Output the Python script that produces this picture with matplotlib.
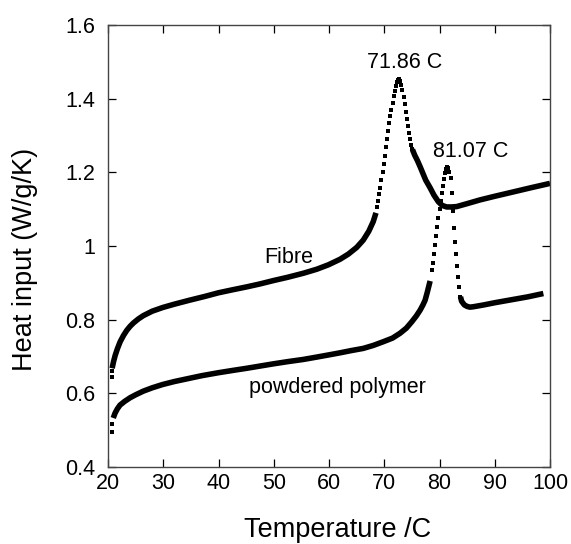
import matplotlib
matplotlib.use("Agg")
import matplotlib.pyplot as plt

# ---------------- data ----------------
# Fibre: steep start dots, solid low part, dotted peak, solid high part
fibre_start_T = [20.67, 20.67]
fibre_start_H = [0.645, 0.660]
fibre_low_T = [20.75, 21.0, 21.3, 21.7, 22.2, 22.8, 23.4, 24.0, 24.6, 25.5, 26.4, 28.0, 29.9,
               32.0, 34.8, 37.5, 40.0, 42.5, 45.1, 47.5, 49.9, 52.5, 55.35, 57.8, 59.9,
               62.0, 63.5, 65.0, 66.2, 67.2, 68.0, 68.5]
fibre_low_H = [0.668, 0.686, 0.703, 0.721, 0.740, 0.757, 0.771, 0.782, 0.791, 0.802, 0.811, 0.823, 0.833,
               0.842, 0.853, 0.863, 0.873, 0.881, 0.889, 0.897, 0.906, 0.915, 0.926, 0.937, 0.949,
               0.964, 0.978, 0.996, 1.016, 1.040, 1.066, 1.090]
fibre_peak_T = [68.7, 68.9, 69.1, 69.3, 69.5, 69.7, 69.9, 70.1, 70.3, 70.5, 70.7, 70.9, 71.1,
                71.3, 71.5, 71.7, 71.9, 72.1, 72.3, 72.5, 72.7, 72.9, 73.1, 73.3, 73.5, 73.7,
                73.9, 74.1, 74.3, 74.5, 74.7, 74.9, 75.1]
fibre_peak_H = [1.105, 1.122, 1.140, 1.158, 1.178, 1.200, 1.222, 1.245, 1.268, 1.290, 1.312, 1.333, 1.352,
                1.370, 1.388, 1.406, 1.422, 1.435, 1.445, 1.451, 1.453, 1.449, 1.438, 1.423, 1.405, 1.385,
                1.364, 1.344, 1.325, 1.307, 1.290, 1.275, 1.262]
fibre_high_T = [75.1, 75.5, 76.0, 76.5, 77.0, 77.5, 78.3, 79.0, 79.8, 80.5, 81.3, 82.2, 83.1,
                85.0, 87.3, 90.0, 93.4, 96.5, 100.0]
fibre_high_H = [1.262, 1.247, 1.232, 1.215, 1.197, 1.179, 1.158, 1.138, 1.120, 1.110, 1.106, 1.106, 1.107,
                1.115, 1.125, 1.135, 1.147, 1.158, 1.170]

# Powdered polymer
powder_start_T = [20.67, 20.8]
powder_start_H = [0.496, 0.518]
powder_low_T = [20.95, 21.27, 21.7, 22.17, 23.0, 24.0, 25.0, 26.4, 28.0, 29.9, 32.0, 34.8, 37.0,
                40.0, 42.5, 45.1, 47.5, 49.9, 52.5, 55.35, 58.0, 60.2, 62.0, 64.0, 66.2, 68.0,
                69.8, 71.5, 72.85, 74.0, 74.97, 75.8, 76.5, 77.0, 77.4, 77.8, 78.3]
powder_low_H = [0.533, 0.546, 0.558, 0.568, 0.578, 0.588, 0.596, 0.606, 0.615, 0.624, 0.632, 0.641, 0.648,
                0.656, 0.662, 0.668, 0.674, 0.680, 0.686, 0.692, 0.699, 0.705, 0.710, 0.716, 0.722, 0.730,
                0.740, 0.750, 0.763, 0.777, 0.794, 0.810, 0.826, 0.840, 0.853, 0.875, 0.905]
powder_peak_T = [78.6, 78.8, 79.0, 79.2, 79.4, 79.6, 79.8, 80.0, 80.2, 80.4, 80.6, 80.8, 81.0,
                 81.2, 81.4, 81.6, 81.8, 82.0, 82.2, 82.4, 82.6, 82.8, 83.0, 83.2, 83.4, 83.6, 83.8]
powder_peak_H = [0.935, 0.955, 0.978, 1.002, 1.027, 1.052, 1.077, 1.100, 1.122, 1.143, 1.162, 1.181, 1.197,
                 1.208, 1.215, 1.213, 1.200, 1.185, 1.145, 1.095, 1.050, 1.012, 0.978, 0.946, 0.917, 0.888, 0.862]
powder_high_T = [83.8, 84.0, 84.5, 85.0, 85.5, 86.1, 88.0, 90.0, 93.0, 96.0, 98.8]
powder_high_H = [0.862, 0.850, 0.840, 0.836, 0.834, 0.835, 0.840, 0.846, 0.854, 0.862, 0.871]

x_ticks = [20, 30, 40, 50, 60, 70, 80, 90, 100]
y_ticks = [0.4, 0.6, 0.8, 1.0, 1.2, 1.4, 1.6]
y_tick_labels = ["0.4", "0.6", "0.8", "1", "1.2", "1.4", "1.6"]

annotations = [("71.86 C", 73.7, 1.483), ("81.07 C", 85.7, 1.242),
               ("Fibre", 52.7, 0.954), ("powdered polymer", 61.5, 0.601)]

# ---------------- drawing ----------------
plt.rcParams['font.family'] = ['Liberation Sans', 'DejaVu Sans']

fig = plt.figure(figsize=(5.71, 5.44), dpi=100)
ax = fig.add_axes([108 / 571, 1 - 467 / 544, 442 / 571, 442 / 544])

LW = 4.0
MS = 3.0
col = 'black'
for sT, sH, lT, lH, pT, pH, hT, hH in [
        (fibre_start_T, fibre_start_H, fibre_low_T, fibre_low_H,
         fibre_peak_T, fibre_peak_H, fibre_high_T, fibre_high_H),
        (powder_start_T, powder_start_H, powder_low_T, powder_low_H,
         powder_peak_T, powder_peak_H, powder_high_T, powder_high_H)]:
    ax.plot(sT, sH, ls='none', marker='s', ms=MS, color=col, mew=0)
    ax.plot(lT, lH, ls='-', lw=LW, color=col, solid_capstyle='butt', solid_joinstyle='round')
    ax.plot(pT, pH, ls='none', marker='s', ms=MS, color=col, mew=0)
    ax.plot(hT, hH, ls='-', lw=LW, color=col, solid_capstyle='butt', solid_joinstyle='round')

for txt, x, y in annotations:
    ax.text(x, y, txt, ha='center', va='baseline', fontsize=15.5, color='black')

ax.set_xlim(20, 100)
ax.set_ylim(0.4, 1.6)
ax.set_xticks(x_ticks)
ax.set_xticklabels([str(v) for v in x_ticks])
ax.set_yticks(y_ticks)
ax.set_yticklabels(y_tick_labels)

ax.tick_params(axis='both', which='major', direction='in', length=6, width=0.9,
               top=True, right=True, labelsize=15.5, colors='black')
ax.tick_params(axis='x', pad=4.5)
ax.tick_params(axis='y', pad=9)
for s in ax.spines.values():
    s.set_color('#444444')
    s.set_linewidth(1.0)

ax.set_xlabel("Temperature /C", fontsize=19.5)
ax.set_ylabel("Heat input (W/g/K)", fontsize=19.5)
ax.xaxis.set_label_coords(0.52, -0.114)
ax.yaxis.set_label_coords(-0.158, 0.47)

fig.savefig("out.png", dpi=100)
